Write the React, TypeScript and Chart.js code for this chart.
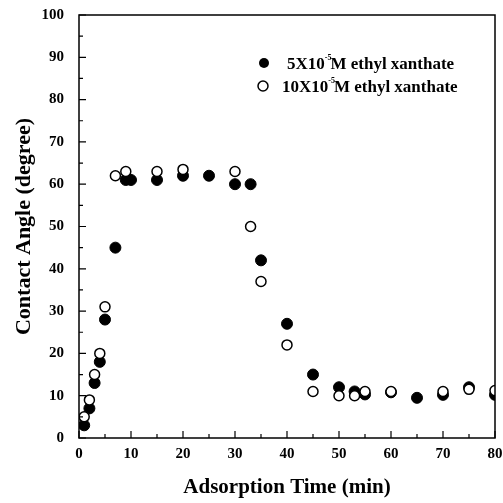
import React, { useEffect, useRef } from 'react';
import { Chart, registerables } from 'chart.js';

Chart.register(...registerables);

// Adsorption time (min) and contact angle (degree)
const timeLow = [1, 2, 3, 4, 5, 7, 9, 10, 15, 20, 25, 30, 33, 35, 40, 45, 50, 53, 55, 60, 65, 70, 75, 80];
const angleLow = [3, 7, 13, 18, 28, 45, 61, 61, 61, 62, 62, 60, 60, 42, 27, 15, 12, 11, 10.3, 10.8, 9.5, 10.2, 12, 10.2];

const timeHigh = [1, 2, 3, 4, 5, 7, 9, 15, 20, 30, 33, 35, 40, 45, 50, 53, 55, 60, 70, 75, 80];
const angleHigh = [5, 9, 15, 20, 31, 62, 63, 63, 63.5, 63, 50, 37, 22, 11, 10, 10, 11, 11, 11, 11.5, 11.2];

const legendPre = ['5X10', '10X10'];
const legendSup = ['-5', '-5'];
const legendPost = ['M ethyl xanthate', 'M ethyl xanthate'];
const seriesLabels = legendPre.map((p, i) => p + '\u207B\u2075' + legendPost[i]);

const xTitle = 'Adsorption Time (min)';
const yTitle = 'Contact Angle (degree)';
const xMin = 0, xMax = 80, xStep = 10;
const yMin = 0, yMax = 100, yStep = 10;

const SERIF = '"Liberation Serif", "Times New Roman", serif';

const framePlugin = {
  id: 'frameTicks',
  afterDraw(chart: any) {
    const { ctx, chartArea: a, scales } = chart;
    const xs = scales.x, ys = scales.y;
    ctx.save();
    ctx.strokeStyle = '#000';
    ctx.lineWidth = 1.5;
    ctx.strokeRect(a.left, a.top, a.right - a.left, a.bottom - a.top);
    ctx.lineWidth = 1.2;
    ctx.beginPath();
    for (let v = xMin; v <= xMax; v += xStep / 2) {
      const px = xs.getPixelForValue(v);
      const len = v % xStep === 0 ? 7 : 4;
      ctx.moveTo(px, a.bottom);
      ctx.lineTo(px, a.bottom - len);
    }
    for (let v = yMin; v <= yMax; v += yStep / 2) {
      const py = ys.getPixelForValue(v);
      const len = v % yStep === 0 ? 7 : 4;
      ctx.moveTo(a.left, py);
      ctx.lineTo(a.left + len, py);
    }
    ctx.stroke();

    // legend
    const rows = [
      { mx: 264, my: 63, tx: 287, filled: true },
      { mx: 263, my: 86, tx: 282, filled: false },
    ];
    rows.forEach((r, i) => {
      ctx.beginPath();
      ctx.arc(r.mx, r.my, 5, 0, Math.PI * 2);
      if (r.filled) {
        ctx.fillStyle = '#000';
        ctx.fill();
      } else {
        ctx.fillStyle = '#fff';
        ctx.fill();
        ctx.lineWidth = 1.5;
        ctx.stroke();
      }
      ctx.fillStyle = '#000';
      ctx.textBaseline = 'alphabetic';
      ctx.textAlign = 'left';
      const base = r.my + 6;
      ctx.font = `bold 17px ${SERIF}`;
      let x = r.tx;
      ctx.fillText(legendPre[i], x, base);
      x += ctx.measureText(legendPre[i]).width;
      ctx.font = `bold 8px ${SERIF}`;
      ctx.fillText(legendSup[i], x, base - 9);
      x += ctx.measureText(legendSup[i]).width - 1;
      ctx.font = `bold 17px ${SERIF}`;
      ctx.fillText(legendPost[i], x, base);
    });
    ctx.restore();
  },
};

export default function App() {
  const ref = useRef<HTMLCanvasElement | null>(null);
  useEffect(() => {
    if (!ref.current) return;
    const chart = new Chart(ref.current, {
      type: 'scatter',
      data: {
        datasets: [
          {
            label: seriesLabels[1],
            data: timeHigh.map((t, i) => ({ x: t, y: angleHigh[i] })),
            backgroundColor: '#fff',
            borderColor: '#000',
            borderWidth: 1.5,
            pointRadius: 5,
            pointHoverRadius: 5,
          },
          {
            label: seriesLabels[0],
            data: timeLow.map((t, i) => ({ x: t, y: angleLow[i] })),
            backgroundColor: '#000',
            borderColor: '#000',
            borderWidth: 1,
            pointRadius: 5.5,
            pointHoverRadius: 5.5,
          },
        ],
      },
      options: {
        responsive: false,
        animation: false,
        events: [],
        layout: { padding: { top: 15, right: 8, left: 0, bottom: 0 } },
        plugins: { legend: { display: false }, tooltip: { enabled: false } },
        scales: {
          x: {
            type: 'linear',
            min: xMin,
            max: xMax,
            grid: { display: false, drawTicks: false },
            border: { display: false },
            ticks: {
              stepSize: xStep,
              padding: 7,
              color: '#000',
              font: { family: SERIF, size: 15, weight: 'bold' },
              maxRotation: 0,
            },
            title: {
              display: true,
              text: xTitle,
              color: '#000',
              font: { family: SERIF, size: 21, weight: 'bold' },
              padding: { top: 0, bottom: 3 },
            },
            afterFit: (s: any) => {
              s.height = 65;
              s.paddingLeft = 0;
              s.paddingRight = 0;
            },
          },
          y: {
            type: 'linear',
            min: yMin,
            max: yMax,
            grid: { display: false, drawTicks: false },
            border: { display: false },
            ticks: {
              stepSize: yStep,
              padding: 15,
              color: '#000',
              font: { family: SERIF, size: 15, weight: 'bold' },
            },
            title: {
              display: true,
              text: yTitle,
              color: '#000',
              font: { family: SERIF, size: 22, weight: 'bold' },
              padding: { top: 11, bottom: 0 },
            },
            afterFit: (s: any) => {
              s.width = 79;
              s.paddingTop = 0;
              s.paddingBottom = 0;
            },
          },
        },
      },
      plugins: [framePlugin],
    } as any);
    return () => chart.destroy();
  }, []);
  return (
    <div style={{ position: 'fixed', left: 0, top: 0, width: 503, height: 503, background: '#fff' }}>
      <canvas ref={ref} width={503} height={503} style={{ width: 503, height: 503 }} />
    </div>
  );
}
